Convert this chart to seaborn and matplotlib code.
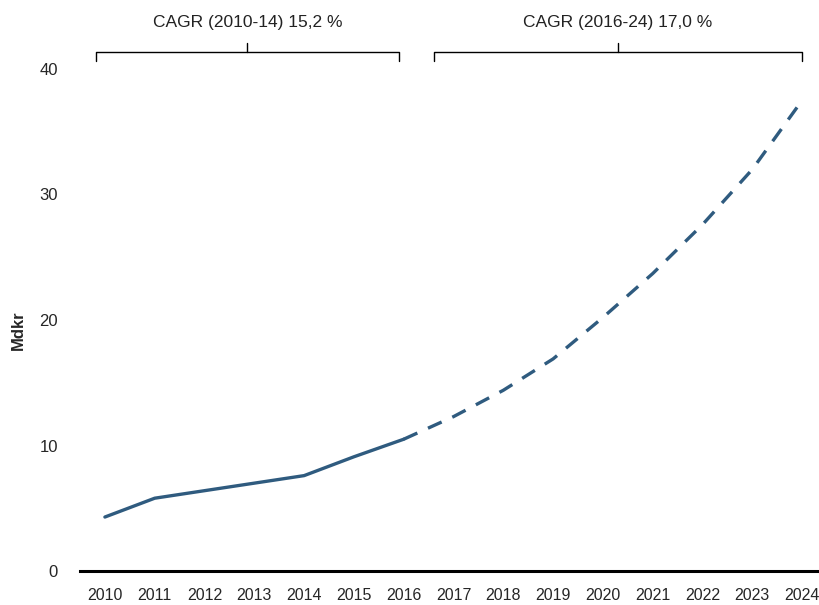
import matplotlib
matplotlib.use("Agg")
import matplotlib.pyplot as plt
import matplotlib.transforms as mtransforms
import seaborn as sns
import pandas as pd

years = [2010, 2011, 2012, 2013, 2014, 2015, 2016, 2017, 2018, 2019, 2020, 2021, 2022, 2023, 2024]
values = [4.3, 5.8, 6.4, 7.0, 7.6, 9.1, 10.5, 12.3, 14.4, 16.9, 20.2, 23.7, 27.6, 32.0, 37.5]
split_year = 2016
bracket_texts = ["CAGR (2010-14) 15,2 %", "CAGR (2016-24) 17,0 %"]
y_ticks = [0, 10, 20, 30, 40]
y_label = "Mdkr"

df = pd.DataFrame({"year": years, "value": values})
actual = df[df["year"] <= split_year]
forecast = df[df["year"] >= split_year]

sns.set_style("white")
plt.rcParams["font.family"] = ["Liberation Sans", "DejaVu Sans"]

fig = plt.figure(figsize=(8.19, 6.05), dpi=100)
ax = fig.add_axes([80 / 819, 1 - 571 / 605, 747 / 819, (571 - 69) / 605])

color = "#2F5B7F"
sns.lineplot(data=actual, x="year", y="value", ax=ax, color=color, lw=2.4)
sns.lineplot(data=forecast, x="year", y="value", ax=ax, color=color, lw=2.4,
             dashes=False, linestyle=(0, (4.5, 3.5)))

ax.set_xlim(2009.5, 2024.5)
ax.set_ylim(0, 40)
ax.set_yticks(y_ticks)
ax.set_xticks(years)
ax.set_xticklabels([str(y) for y in years], fontsize=11.5)
ax.set_yticklabels([str(v) for v in y_ticks], fontsize=12)
ax.tick_params(axis="x", length=0, pad=12)
ax.tick_params(axis="y", length=0, pad=16)
ax.set_xlabel("")
ax.set_ylabel(y_label, fontsize=12, fontweight="bold")
ax.yaxis.set_label_coords(-0.072, 0.48)

for side in ["top", "right", "left"]:
    ax.spines[side].set_visible(False)
ax.spines["bottom"].set_color("black")
ax.spines["bottom"].set_linewidth(2.2)

# brackets above the plot
trans = mtransforms.blended_transform_factory(ax.transData, fig.transFigure)
brackets = [(2009.82, 2015.9), (2016.6, 2024.0)]
y_bar = 1 - 52 / 605
y_end = 1 - 61 / 605
y_tip = 1 - 43 / 605
y_txt = 1 - 22 / 605
for (x0, x1), txt in zip(brackets, bracket_texts):
    xm = (x0 + x1) / 2
    ax.plot([x0, x0, x1, x1], [y_end, y_bar, y_bar, y_end], transform=trans,
            color="black", lw=1.0, clip_on=False)
    ax.plot([xm, xm], [y_bar, y_tip], transform=trans, color="black", lw=1.0, clip_on=False)
    ax.text(xm, y_txt, txt, transform=trans, ha="center", va="center", fontsize=12.5,
            color="#222222")

fig.savefig("out.png", dpi=100)
